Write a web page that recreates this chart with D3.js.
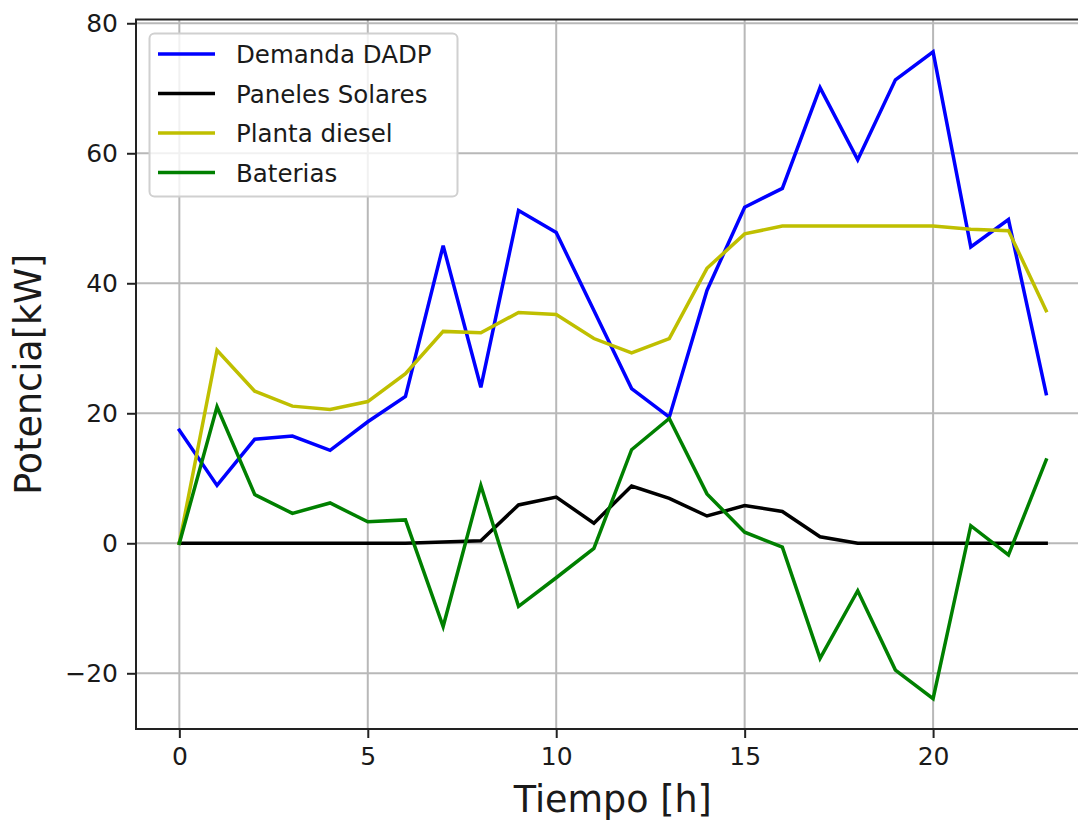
<!DOCTYPE html>
<html>
<head>
<meta charset="utf-8">
<script src="https://cdn.jsdelivr.net/npm/d3@7"></script>
<style>
  html, body { margin: 0; padding: 0; background: #fff; }
  svg { display: block; }
  text { font-family: "DejaVu Sans", sans-serif; fill: #1a1a1a; }
</style>
</head>
<body>
<svg id="chart" width="1078" height="821"></svg>
<script>
// ---- Data ----
const hours = d3.range(0, 24);
const demanda = [17.4, 8.9, 16.0, 16.5, 14.3, 18.7, 22.6, 45.8, 24.0, 51.2, 47.8, 35.8, 23.8, 19.4, 38.9, 51.7, 54.6, 70.1, 59.0, 71.3, 75.6, 45.6, 49.8, 23.0];
const solares = [0, 0, 0, 0, 0, 0, 0, 0.2, 0.4, 5.9, 7.1, 3.1, 8.8, 6.9, 4.2, 5.8, 4.9, 1.0, 0, 0, 0, 0, 0, 0];
const diesel = [0, 29.7, 23.4, 21.1, 20.6, 21.8, 26.1, 32.6, 32.4, 35.5, 35.2, 31.5, 29.3, 31.5, 42.3, 47.6, 48.8, 48.8, 48.8, 48.8, 48.8, 48.3, 48.1, 35.8];
const baterias = [0, 21.0, 7.5, 4.6, 6.2, 3.3, 3.6, -12.8, 8.9, -9.7, -5.3, -0.8, 14.4, 19.2, 7.6, 1.7, -0.6, -17.7, -7.3, -19.5, -23.9, 2.7, -1.8, 12.8];
const seriesNames = ["Demanda DADP", "Paneles Solares", "Planta diesel", "Baterias"];
const seriesColors = ["#0000ff", "#000000", "#bfbf00", "#008000"];
const xTicks = [0, 5, 10, 15, 20];
const yTicks = [-20, 0, 20, 40, 60, 80];
const xLabel = "Tiempo [h]";
const yLabel = "Potencia[kW]";

const seriesData = [demanda, solares, diesel, baterias];

// ---- Layout ----
const svg = d3.select("#chart");
const pLeft = 136, pRight = 1089.5, pTop = 19.5, pBottom = 729;

const x = d3.scaleLinear().domain([-1.15, 24.15]).range([pLeft, pRight]);
const y = d3.scaleLinear().domain([-28.57, 80.58]).range([pBottom, pTop]);

// Grid
const grid = svg.append("g");
grid.selectAll("line.vx").data(xTicks).enter().append("line")
  .attr("x1", d => x(d)).attr("x2", d => x(d))
  .attr("y1", pTop).attr("y2", pBottom)
  .attr("stroke", "#b8b8b8").attr("stroke-width", 2);
grid.selectAll("line.hy").data(yTicks).enter().append("line")
  .attr("x1", pLeft).attr("x2", pRight)
  .attr("y1", d => y(d)).attr("y2", d => y(d))
  .attr("stroke", "#b8b8b8").attr("stroke-width", 2);

// Lines
const line = d3.line().x((d, i) => x(hours[i])).y(d => y(d));
seriesData.forEach((s, k) => {
  svg.append("path")
    .datum(s)
    .attr("d", line)
    .attr("fill", "none")
    .attr("stroke", seriesColors[k])
    .attr("stroke-width", 3.5)
    .attr("stroke-linejoin", "miter")
    .attr("stroke-linecap", "square");
});

// Spines
const spines = svg.append("g").attr("stroke", "#222").attr("stroke-width", 2).attr("fill", "none");
spines.append("rect").attr("x", pLeft).attr("y", pTop).attr("width", pRight - pLeft).attr("height", pBottom - pTop);

// Axes
const xAxis = d3.axisBottom(x).tickValues(xTicks).tickSize(9).tickPadding(9).tickFormat(d3.format("d"));
const gx = svg.append("g").attr("transform", `translate(0,${pBottom})`).call(xAxis);
gx.select(".domain").remove();
gx.selectAll(".tick line").attr("stroke", "#222").attr("stroke-width", 2);
gx.selectAll(".tick text").attr("font-size", 25).attr("font-family", "DejaVu Sans").attr("fill", "#1a1a1a");

const yAxis = d3.axisLeft(y).tickValues(yTicks).tickSize(9).tickPadding(9)
  .tickFormat(d => d < 0 ? "\u2212" + Math.abs(d) : String(d));
const gy = svg.append("g").attr("transform", `translate(${pLeft},0)`).call(yAxis);
gy.select(".domain").remove();
gy.selectAll(".tick line").attr("stroke", "#222").attr("stroke-width", 2);
gy.selectAll(".tick text").attr("font-size", 25).attr("font-family", "DejaVu Sans").attr("fill", "#1a1a1a");

// Axis labels
svg.append("text")
  .attr("x", (pLeft + pRight) / 2).attr("y", 812)
  .attr("text-anchor", "middle").attr("font-size", 36.5)
  .text(xLabel);
svg.append("text")
  .attr("transform", `translate(41,${(pTop + pBottom) / 2}) rotate(-90)`)
  .attr("text-anchor", "middle").attr("font-size", 36.5)
  .text(yLabel);

// Legend
const lg = svg.append("g");
lg.append("rect")
  .attr("x", 149.5).attr("y", 33.5).attr("width", 308).attr("height", 163)
  .attr("rx", 5).attr("ry", 5)
  .attr("fill", "rgba(255,255,255,0.8)").attr("stroke", "#d0d0d0").attr("stroke-width", 2);
const rowY = [54, 93.5, 133, 172.5];
seriesNames.forEach((name, k) => {
  lg.append("line")
    .attr("x1", 158).attr("x2", 215)
    .attr("y1", rowY[k]).attr("y2", rowY[k])
    .attr("stroke", seriesColors[k]).attr("stroke-width", 3.5);
  lg.append("text")
    .attr("x", 236).attr("y", rowY[k] + 9.3)
    .attr("font-size", 24.5)
    .text(name);
});
</script>
</body>
</html>
